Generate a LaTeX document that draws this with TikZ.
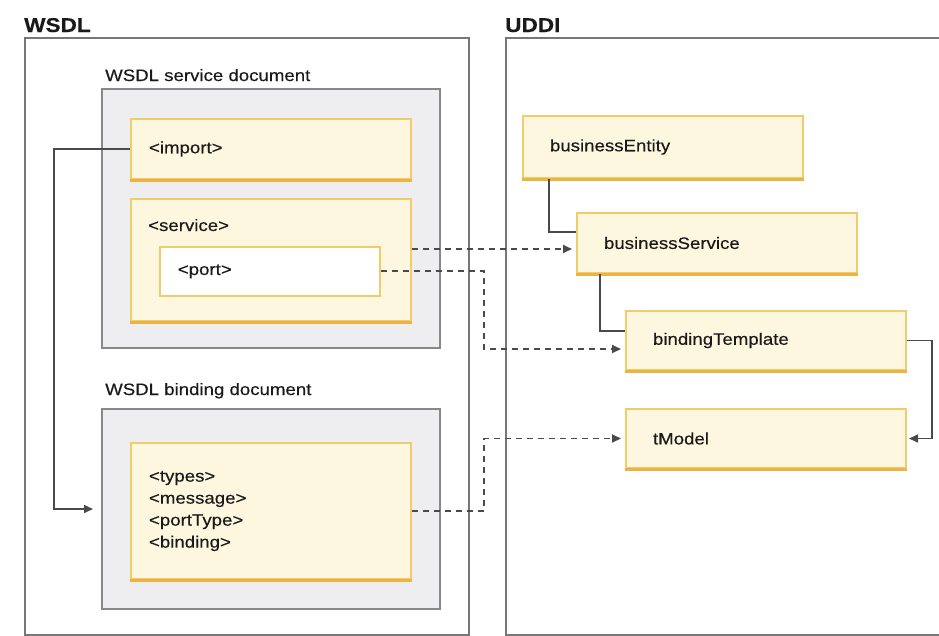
\documentclass[tikz,border=0pt]{standalone}
\usepackage{fontspec}
\setmainfont{Liberation Sans}[FakeStretch=1.13, FakeBold=0.35]
\usetikzlibrary{arrows.meta}

\definecolor{framegray}{HTML}{777777}
\definecolor{docfill}{HTML}{EEEEF1}
\definecolor{docdraw}{HTML}{888888}
\definecolor{yfill}{HTML}{FDF7DF}
\definecolor{ydraw}{HTML}{F0CD6A}
\definecolor{yedge}{HTML}{EBB244}
\definecolor{inktext}{HTML}{1A1A1A}
\definecolor{linkgray}{HTML}{4A4A4A}

\newcommand{\bodysize}{\fontsize{16.5pt}{22pt}\selectfont}
\newcommand{\titlesize}{\fontsize{20pt}{24pt}\selectfont\bfseries}

\tikzset{
  framebox/.style={draw=framegray, line width=1.6pt, anchor=north west, inner sep=0pt},
  docbox/.style={draw=docdraw, fill=docfill, line width=2pt, anchor=north west, inner sep=0pt},
  ybox/.style={draw=ydraw, fill=yfill, line width=2pt, anchor=north west,
    inner xsep=18pt, inner ysep=0pt, align=left, text=inktext},
  ubox/.style={ybox, inner xsep=27pt},
  portbox/.style={draw=ydraw, fill=white, line width=1.7pt, anchor=north west,
    inner xsep=18pt, inner ysep=0pt, align=left, text=inktext},
  yedgeline/.style={draw=yedge, line width=3pt},
  lbl/.style={anchor=base west, inner sep=0pt, text=inktext},
  ttl/.style={lbl, font=\titlesize},
  link/.style={draw=linkgray, line width=1.6pt},
  dlink/.style={draw=linkgray, line width=1.8pt, dash pattern=on 6pt off 5pt,
    -{Triangle[length=9pt,width=8pt]}, shorten >=4pt},
}

\begin{document}
\begin{tikzpicture}[x=1pt, y=-1pt, font=\bodysize]
\useasboundingbox (0,0) rectangle (939,635);
\fill[white] (0,0) rectangle (939,635);

% outer frames
\node[framebox, minimum width=444pt, minimum height=597pt] (wsdlframe) at (24,37) {};
\begin{scope}
  \clip (0,0) rectangle (939,635);
  \node[framebox, minimum width=460pt, minimum height=597pt] (uddiframe) at (505,37) {};
\end{scope}
\node[ttl] (wsdltitle) at (24,32) {WSDL};
\node[ttl] (uddititle) at (505,32) {UDDI};

% WSDL service document
\node[lbl] (svclbl) at (105,81) {WSDL service document};
\node[docbox, minimum width=338pt, minimum height=259pt] (svcdoc) at (101,88) {};
\node[ybox, text width=244pt, minimum height=60pt] (import) at (130,118) {<import>};
\node[ybox, minimum width=280pt, minimum height=122pt] (service) at (130,198) {};
\node[lbl] (servicelbl) at (148,231) {<service>};
\node[portbox, text width=184pt, minimum height=49pt] (port) at (159,246) {<port>};

% WSDL binding document
\node[lbl] (binlbl) at (105,395) {WSDL binding document};
\node[docbox, minimum width=338pt, minimum height=200pt] (bindoc) at (101,408) {};
\node[ybox, text width=244pt, minimum height=136pt] (bindinner) at (130,442)
  {<types>\\<message>\\<portType>\\<binding>};

% UDDI entities
\node[ubox, text width=226pt, minimum height=62pt] (entity) at (522,115) {businessEntity};
\node[ubox, text width=226pt, minimum height=60pt] (bservice) at (576,212) {businessService};
\node[ubox, text width=226pt, minimum height=59pt] (btemplate) at (625,310) {bindingTemplate};
\node[ubox, text width=226pt, minimum height=59pt] (tmodel) at (625,408) {tModel};

% darker lower edges of the yellow boxes
\foreach \n in {import,service,bindinner,entity,bservice,btemplate,tmodel}
  \draw[yedgeline] (\n.south west) -- (\n.south east);

% solid connectors
\coordinate (impjog) at (54,0);
\draw[link, -{Triangle[length=9pt,width=8pt]}, shorten >=8pt]
  (import.west) -- (import.west -| impjog) |- (bindoc.west);
\draw[link] ([xshift=27pt]entity.south west) |- ([yshift=11pt]bservice.west);
\draw[link] ([xshift=24pt]bservice.south west) |- ([yshift=9.5pt]btemplate.west);
\coordinate (tjog) at (932,0);
\draw[link, -{Triangle[length=9pt,width=8pt]}, shorten >=2pt]
  (btemplate.east) -- (btemplate.east -| tjog) |- (tmodel.east);

% dashed references from WSDL into UDDI
\coordinate (bsvcin) at ([yshift=-6pt]bservice.west);
\coordinate (djog) at (484,0);
\draw[dlink] (service.east |- bsvcin) -- (bsvcin);
\draw[dlink] (port.east) -- (port.east -| djog) |- ([yshift=-8.5pt]btemplate.west);
\draw[dlink] (bindinner.east) -- (bindinner.east -| djog) |- (tmodel.west);
\end{tikzpicture}
\end{document}
